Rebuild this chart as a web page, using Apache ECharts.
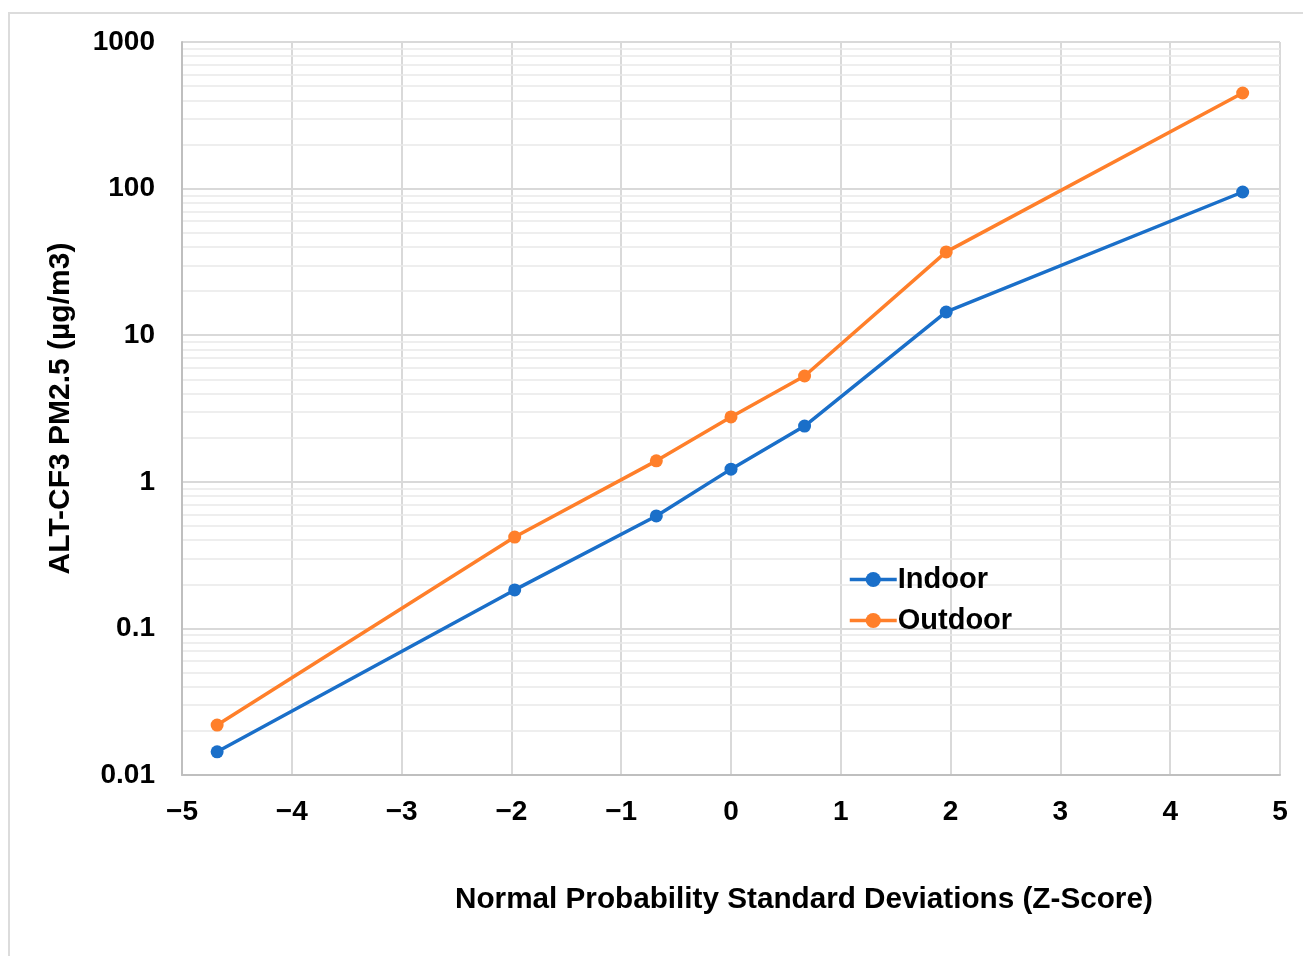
<!DOCTYPE html>
<html>
<head>
<meta charset="utf-8">
<script src="https://cdn.jsdelivr.net/npm/echarts@6/dist/echarts.min.js"></script>
<style>
  html, body { margin: 0; padding: 0; background: #fff; }
  #main { position: absolute; left: 0; top: 0; width: 1303px; height: 956px; }
  #frame { position: absolute; left: 8px; top: 12px; width: 1400px; height: 1000px;
           border-left: 2px solid #dcdcdc; border-top: 2px solid #dcdcdc; }
</style>
</head>
<body>
<div id="frame"></div>
<div id="main"></div>
<script>
// z-scores (x) and PM2.5 values
const zScores = [-4.68, -1.97, -0.68, 0, 0.67, 1.96, 4.66]
const indoor = [0.0144, 0.183, 0.585, 1.22, 2.40, 14.4, 94.8]
const outdoor = [0.0219, 0.42, 1.39, 2.77, 5.27, 37, 449]
const decades = [0.01, 0.1, 1, 10, 100]
const minorSteps = [2, 3, 4, 5, 6, 7, 8, 9]

const font = '"Liberation Sans", Arial, sans-serif'

// minor log grid lines (2..9 x each decade)
const minorLines = []
decades.forEach(d => minorSteps.forEach(m => minorLines.push({ yAxis: +(d * m).toPrecision(3) })))

var chartDom = document.getElementById('main')
var myChart = echarts.init(chartDom)
var option = {
  animation: false,
  grid: { left: 182, right: 23, top: 42, bottom: 181 },
  legend: {
    left: 843, top: 560,
    orient: 'vertical',
    itemWidth: 47, itemHeight: 19, itemGap: 12,
    lineStyle: { width: 3.5 },
    textStyle: { fontFamily: font, fontWeight: 'bold', fontSize: 29, color: '#000', padding: [0, 0, 0, -4] },
    data: ['Indoor', 'Outdoor']
  },
  xAxis: {
    type: 'value',
    min: -5, max: 5, interval: 1,
    axisLine: { show: true, onZero: false, lineStyle: { color: '#bfbfbf', width: 2 } },
    axisTick: { show: false },
    axisLabel: {
      fontFamily: font, fontWeight: 'bold', fontSize: 28, color: '#000', margin: 23,
      formatter: v => (v < 0 ? '\u2212' + Math.abs(v) : '' + v)
    },
    splitLine: { show: true, lineStyle: { color: '#d9d9d9', width: 2 } }
  },
  yAxis: {
    type: 'log',
    logBase: 10,
    min: 0.01, max: 1000,
    name: 'ALT-CF3 PM2.5 (\u00b5g/m3)',
    nameLocation: 'middle',
    nameGap: 106,
    nameTextStyle: { fontFamily: font, fontWeight: 'bold', fontSize: 30, color: '#000' },
    axisLine: { show: true, onZero: false, lineStyle: { color: '#bfbfbf', width: 2 } },
    axisTick: { show: false },
    axisLabel: {
      fontFamily: font, fontWeight: 'bold', fontSize: 28, color: '#000', margin: 27,
      formatter: v => '' + v
    },
    splitLine: { show: true, lineStyle: { color: '#d9d9d9', width: 2 } }
  },
  graphic: [{
    type: 'text',
    left: 455, top: 885,
    style: {
      text: 'Normal Probability Standard Deviations (Z-Score)',
      fontFamily: font, fontWeight: 'bold', fontSize: 29.7, fill: '#000'
    }
  }],
  series: [
    {
      name: 'minor',
      type: 'line',
      data: [],
      silent: true,
      z: 0,
      markLine: {
        silent: true,
        symbol: 'none',
        z: 0,
        label: { show: false },
        lineStyle: { color: '#e8e8e8', width: 1.5, type: 'solid' },
        data: minorLines
      }
    },
    {
      name: 'Indoor',
      type: 'line',
      data: zScores.map((z, i) => [z, indoor[i]]),
      symbol: 'circle', symbolSize: 13,
      itemStyle: { color: '#1a6fc9' },
      lineStyle: { color: '#1a6fc9', width: 3.5 },
      z: 5
    },
    {
      name: 'Outdoor',
      type: 'line',
      data: zScores.map((z, i) => [z, outdoor[i]]),
      symbol: 'circle', symbolSize: 13,
      itemStyle: { color: '#ff7f2a' },
      lineStyle: { color: '#ff7f2a', width: 3.5 },
      z: 5
    }
  ]
}
myChart.setOption(option)
</script>
</body>
</html>
